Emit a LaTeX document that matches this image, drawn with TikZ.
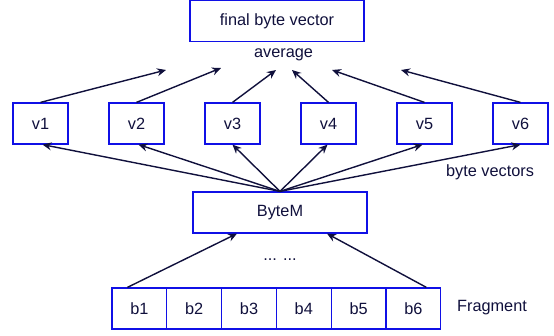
\documentclass[tikz,border=0pt]{standalone}
\usepackage{fontspec}
\setmainfont{Liberation Sans}
\usepackage{tikz}
\usetikzlibrary{arrows.meta}
\definecolor{boxblue}{HTML}{1010E6}
\definecolor{inkblue}{HTML}{10103C}
\tikzset{box/.style={draw=boxblue, line width=1.2pt, inner sep=0pt, text=inkblue, minimum height=41pt},
vbox/.style={box, minimum width=55pt},
bbox/.style={box, minimum width=54.8pt},
lbl/.style={text=inkblue, inner sep=0pt},
arr/.style={draw=inkblue, line width=1.4pt, -{Stealth[length=9pt,width=8pt,inset=3pt]}}}

\begin{document}
\begin{tikzpicture}[x=1pt,y=-1pt,font=\fontsize{16.3}{19}\selectfont]
\useasboundingbox (0,0) rectangle (554,336);
\node[box, minimum width=174pt] (final) at (277,21) {final byte vector};
\node[lbl] (avg) at (283.5,55) {average};
\node[vbox] (v1) at (40.5,123.5) {v1};
\node[vbox] (v2) at (136.5,123.5) {v2};
\node[vbox] (v3) at (232.5,123.5) {v3};
\node[vbox] (v4) at (328.5,123.5) {v4};
\node[vbox] (v5) at (424.5,123.5) {v5};
\node[vbox] (v6) at (520.5,123.5) {v6};
\node[lbl] (bv) at (490,172) {byte vectors};
\node[box, minimum width=174pt] (bytem) at (280,212.5) {ByteM};
\node[lbl] (dots) at (280,260) {... ...};
\node[bbox] (b1) at (139.4,308.5) {b1};
\node[bbox] (b2) at (194.2,308.5) {b2};
\node[bbox] (b3) at (249,308.5) {b3};
\node[bbox] (b4) at (303.8,308.5) {b4};
\node[bbox] (b5) at (358.6,308.5) {b5};
\node[bbox] (b6) at (413.4,308.5) {b6};
\node[lbl] (frag) at (492,308) {Fragment};
% free ends under the average label
\coordinate (t1) at (166,70);
\coordinate (t2) at (221,68);
\coordinate (t3) at (276,70);
\coordinate (t4) at (292,70);
\coordinate (t5) at (332,70);
\coordinate (t6) at (401,70);
\draw[arr] (v1.north) -- (t1);
\draw[arr] (v2.north) -- (t2);
\draw[arr] (v3.north) -- (t3);
\draw[arr] (v4.north) -- (t4);
\draw[arr] (v5.north) -- (t5);
\draw[arr] (v6.north) -- (t6);
\draw[arr] (bytem.north) -- ([xshift=2pt]v1.south);
\draw[arr] (bytem.north) -- ([xshift=2pt]v2.south);
\draw[arr] (bytem.north) -- (v3.south);
\draw[arr] (bytem.north) -- ([xshift=-1pt]v4.south);
\draw[arr] (bytem.north) -- ([xshift=-2pt]v5.south);
\draw[arr] (bytem.north) -- (v6.south);
\draw[arr] ([xshift=-12pt]b1.north) -- ([xshift=-43pt]bytem.south);
\draw[arr] ([xshift=13pt]b6.north) -- ([xshift=47pt]bytem.south);
\end{tikzpicture}
\end{document}
